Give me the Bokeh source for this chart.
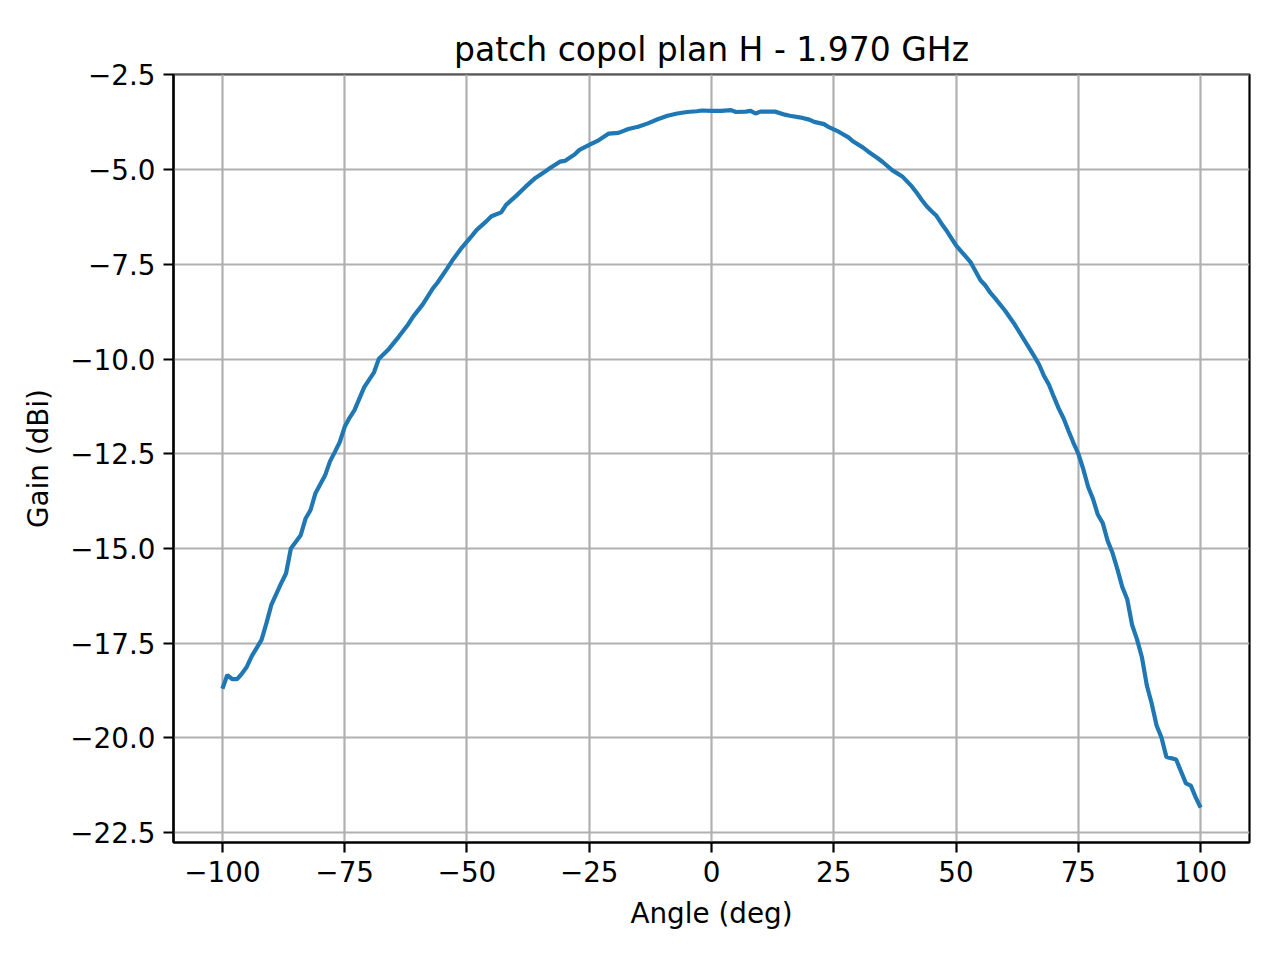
from bokeh.plotting import figure
from bokeh.models import Range1d, FixedTicker
from bokeh.embed import file_html
from bokeh.resources import INLINE

# measured copol pattern, H plane, 1.970 GHz
angles = [-100, -99, -98, -97, -96, -95, -94, -92, -91, -90, -88, -87, -86, -84,
          -83, -82, -81, -79, -78, -77, -76, -75, -74, -73, -71, -69, -68, -66,
          -64, -62, -61, -59, -57, -56, -54, -53, -51, -49, -48, -46, -45, -43,
          -42, -40, -38, -36, -34, -33, -31, -30, -28, -27, -25, -23, -21, -19,
          -17, -15, -13, -11, -9, -7, -5, -3, -2, 0, 2, 4, 5, 7, 8, 9, 10, 13,
          15, 16, 18, 20, 21, 23, 24, 26, 28, 29, 31, 32, 34, 35, 37, 38, 39,
          41, 42, 43, 44, 45, 46, 47, 48, 49, 50, 51, 52, 53, 55, 56, 57, 58,
          60, 62, 63, 65, 66, 67, 68, 69, 70, 71, 72, 73, 74, 75, 76, 77, 78,
          79, 80, 81, 82, 83, 84, 85, 86, 87, 88, 89, 90, 91, 92, 93, 95, 97,
          98, 99, 100]
gain = [-18.70, -18.34, -18.45, -18.45, -18.30, -18.12, -17.84, -17.41, -16.97,
        -16.49, -15.92, -15.66, -15.00, -14.65, -14.21, -13.99, -13.55, -13.07,
        -12.70, -12.45, -12.19, -11.79, -11.55, -11.35, -10.74, -10.35, -9.99,
        -9.74, -9.42, -9.08, -8.88, -8.55, -8.14, -7.98, -7.60, -7.40, -7.05,
        -6.75, -6.59, -6.36, -6.23, -6.13, -5.93, -5.70, -5.45, -5.22, -5.05,
        -4.96, -4.79, -4.77, -4.60, -4.48, -4.35, -4.22, -4.05, -4.03, -3.93,
        -3.87, -3.78, -3.67, -3.58, -3.52, -3.48, -3.46, -3.44, -3.45, -3.45,
        -3.43, -3.48, -3.47, -3.45, -3.52, -3.47, -3.47, -3.55, -3.58, -3.62,
        -3.68, -3.74, -3.80, -3.88, -4.00, -4.15, -4.26, -4.42, -4.52, -4.70,
        -4.80, -5.02, -5.10, -5.18, -5.45, -5.62, -5.80, -5.97, -6.10, -6.22,
        -6.42, -6.60, -6.80, -7.00, -7.15, -7.30, -7.45, -7.92, -8.06, -8.25,
        -8.40, -8.72, -9.09, -9.30, -9.72, -9.93, -10.15, -10.45, -10.68,
        -11.00, -11.31, -11.57, -11.90, -12.21, -12.50, -12.90, -13.37, -13.69,
        -14.11, -14.33, -14.80, -15.12, -15.55, -16.02, -16.34, -17.02, -17.40,
        -17.87, -18.61, -19.09, -19.67, -19.99, -20.50, -20.57, -21.20, -21.26,
        -21.57, -21.84]

x_ticks = [-100, -75, -50, -25, 0, 25, 50, 75, 100]
y_ticks = [-22.5, -20.0, -17.5, -15.0, -12.5, -10.0, -7.5, -5.0, -2.5]

title = "patch copol plan H - 1.970 GHz"
xlabel = "Angle (deg)"
ylabel = "Gain (dBi)"

FONT = "DejaVu Sans"


def label(v, fmt):
  s = fmt % v
  return s.replace("-", "\u2212")


p = figure(width=1272, height=952, output_backend="svg", toolbar_location=None,
           x_range=Range1d(-110, 110), y_range=Range1d(-22.76, -2.49),
           min_border_left=173, min_border_right=23, min_border_top=74,
           min_border_bottom=110, title=title)

p.line(angles, gain, line_color="#1f77b4", line_width=4.2)

p.title.align = "center"
p.title.text_font = FONT
p.title.text_font_size = "33px"
p.title.text_font_style = "normal"
p.title.text_color = "black"
p.title.standoff = 12

p.outline_line_color = "black"
p.outline_line_width = 2.2
p.outline_line_alpha = 1.0

p.xaxis.ticker = FixedTicker(ticks=x_ticks)
p.yaxis.ticker = FixedTicker(ticks=y_ticks)
p.xaxis.major_label_overrides = {t: label(t, "%d") for t in x_ticks}
p.yaxis.major_label_overrides = {t: label(t, "%.1f") for t in y_ticks}
p.xaxis.axis_label = xlabel
p.yaxis.axis_label = ylabel

for ax in [p.xaxis[0], p.yaxis[0]]:
  ax.axis_line_color = "black"
  ax.axis_line_width = 2.2
  ax.major_tick_line_color = "black"
  ax.major_tick_line_width = 2.2
  ax.major_tick_out = 10
  ax.major_tick_in = 0
  ax.minor_tick_out = 0
  ax.minor_tick_in = 0
  ax.major_label_text_font = FONT
  ax.major_label_text_font_size = "27.8px"
  ax.major_label_text_color = "black"
  ax.major_label_standoff = 8
  ax.axis_label_text_font = FONT
  ax.axis_label_text_font_size = "27.8px"
  ax.axis_label_text_font_style = "normal"
  ax.axis_label_text_color = "black"
  ax.axis_label_standoff = 12

p.grid.grid_line_color = "#b0b0b0"
p.grid.grid_line_width = 2.2

open("out.html", "w").write(file_html(p, INLINE))
